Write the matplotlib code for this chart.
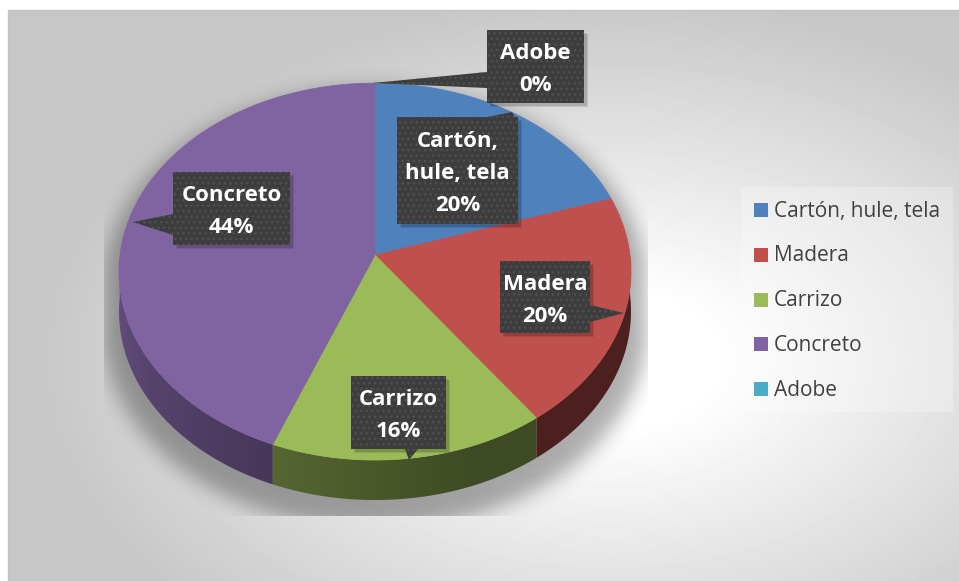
import textwrap
import numpy as np
import matplotlib.pyplot as plt
from matplotlib.colors import to_rgb
from matplotlib.patches import Polygon, Rectangle
from matplotlib.path import Path

# tipo de material de las viviendas (numero de casos)
categories = ["Cartón, hule, tela", "Madera", "Carrizo", "Concreto", "Adobe"]
counts = [5, 5, 4, 11, 0]
colors = ["#4F81BD", "#C0504D", "#9BBB59", "#8064A2", "#4BACC6"]

# cajas de etiqueta (x0, y0, x1, y1) y su flecha (base1, base2, punta), en pixeles
label_boxes = [(397, 117, 518, 224), (500, 261, 590, 333), (351, 376, 446, 449),
               (173, 172, 290, 245), (487, 30, 584, 103)]
label_tips = [((488, 117), (515, 117), (512, 112)),
              ((590, 305), (590, 322), (624, 313)),
              ((405, 449), (418, 449), (409, 460)),
              ((173, 214), (173, 235), (133, 222)),
              ((487, 72), (487, 88), (373, 83))]

W, H = 959, 581
fig = plt.figure(figsize=(W / 100, H / 100), dpi=100)
ax = fig.add_axes([0, 0, 1, 1])

# fondo con degradado radial
yy, xx = np.mgrid[0:H, 0:W] + 0.5
d = np.hypot((xx - 610) / 520, (yy - 360) / 330)
bg = 1 - 0.22 * np.clip((d - 0.2) / 0.9, 0, 1)
bg[:10, :] = 1
bg[:, :8] = 1
ax.imshow(bg, cmap="gray", vmin=0, vmax=1, extent=[0, W, H, 0], zorder=0,
          interpolation="bilinear")
ax.add_patch(Rectangle((8, 10), W, H, fill=False, ec="#c4c4c4", lw=1, zorder=1))

# geometria del pastel 3D (proyeccion con algo de perspectiva)
cx, cy, A, B, k, depth = 375, 255, 255, 187, 0.088, 40


def proj(theta, drop=0.0):
    t = np.radians(theta)
    u, v = np.cos(t), np.sin(t)
    s = 1 / (1 + k * v)
    return cx + A * u * s, cy - B * v * s + drop


fracs = np.array(counts) / sum(counts)
bounds = 90 - 360 * np.concatenate([[0], np.cumsum(fracs)])

# sombra difusa debajo del pastel
th = np.linspace(0, 360, 721)
sx, sy = proj(th, np.where(np.sin(np.radians(th)) < 0, depth, 0))
sx = cx + (sx - cx) * 1.06
sy = cy + 14 + (sy - cy) * 1.06
mask = Path(np.column_stack([sx, sy])).contains_points(
    np.column_stack([xx.ravel(), yy.ravel()])).reshape(H, W).astype(float)
g = np.exp(-0.5 * (np.arange(-30, 31) / 10.0) ** 2)
g /= g.sum()
mask = np.apply_along_axis(lambda r: np.convolve(r, g, mode="same"), 1, mask)
mask = np.apply_along_axis(lambda c: np.convolve(c, g, mode="same"), 0, mask)
clip = (xx > 104) & (xx < 648) & (yy > 60) & (yy < 516)
shadow = np.zeros((H, W, 4))
shadow[..., 3] = 0.32 * mask * clip
ax.imshow(shadow, extent=[0, W, H, 0], zorder=2)


def wall_shade(phi):
    return 0.40 + 0.36 * np.clip((290 - phi) / 100, 0, 1)


# angulo de la pared frontal segun la columna x
front = np.linspace(180, 360, 721)
front_x = proj(front)[0]
col_x = np.arange(W) + 0.5
col_phi = np.interp(col_x, front_x, front)

# paredes laterales con degradado
for i, col in enumerate(colors):
    if fracs[i] == 0:
        continue
    t = np.linspace(bounds[i], bounds[i + 1], 200) % 360
    t = t[t > 180]
    if len(t) < 2:
        continue
    tx, ty = proj(t)
    wall = np.vstack([np.column_stack([tx, ty]),
                      np.column_stack([tx, ty + depth])[::-1]])
    poly = Polygon(wall, closed=True, fc="none", ec="none", zorder=3)
    ax.add_patch(poly)
    base = np.array(to_rgb(col))
    img = np.tile((base[None, :] * wall_shade(col_phi)[:, None])[None, :, :], (H, 1, 1))
    im = ax.imshow(img, extent=[0, W, H, 0], zorder=3, interpolation="bilinear")
    im.set_clip_path(poly)

# caras superiores
for i, col in enumerate(colors):
    if fracs[i] == 0:
        continue
    t = np.linspace(bounds[i], bounds[i + 1], 200)
    px, py = proj(t)
    verts = np.vstack([[[cx, cy]], np.column_stack([px, py])])
    ax.add_patch(Polygon(verts, closed=True, fc=col, ec=col, lw=0.5, zorder=4))

# etiquetas tipo globo
plt.rcParams["hatch.linewidth"] = 1.0
for i, name in enumerate(categories):
    x0, y0, x1, y1 = label_boxes[i]
    b1, b2, tip = label_tips[i]
    pct = round(100 * counts[i] / sum(counts))
    for off, a in ((4, 0.10), (3, 0.12)):
        ax.add_patch(Rectangle((x0 + off, y0 + off), x1 - x0, y1 - y0, fc="black",
                               alpha=a, lw=0, zorder=5))
    for patch in (Polygon([b1, b2, tip], closed=True),
                  Rectangle((x0, y0), x1 - x0, y1 - y0)):
        patch.set(fc="#3d3d3d", ec="#3d3d3d", lw=0, zorder=6)
        ax.add_patch(patch)
    for patch in (Polygon([b1, b2, tip], closed=True),
                  Rectangle((x0, y0), x1 - x0, y1 - y0)):
        patch.set(fill=False, hatch="...", ec="#505050", lw=0, zorder=6)
        ax.add_patch(patch)
    lines = textwrap.fill(name, 10).split("\n") + [f"{pct}%"]
    yc = 0.5 * (y0 + y1) + 3
    for j, line in enumerate(lines):
        ax.text(0.5 * (x0 + x1), yc + (j - (len(lines) - 1) / 2) * 32, line,
                ha="center", va="center", color="white", fontsize=16,
                fontweight="bold", family="Open Sans", zorder=7)

# leyenda
ax.add_patch(Rectangle((741, 187), 212, 225, fc="white", alpha=0.25, lw=0, zorder=2))
for i, name in enumerate(categories):
    ym = 210 + i * 44.75
    ax.add_patch(Rectangle((754, ym - 7), 14, 14, fc=colors[i], lw=0, zorder=3))
    ax.text(774, ym + 1, name, ha="left", va="center", color="#404040",
            fontsize=15, family="Open Sans", zorder=3)

ax.set_xlim(0, W)
ax.set_ylim(H, 0)
ax.set_aspect("auto")
ax.axis("off")
fig.savefig("out.png", dpi=100, facecolor="white")
